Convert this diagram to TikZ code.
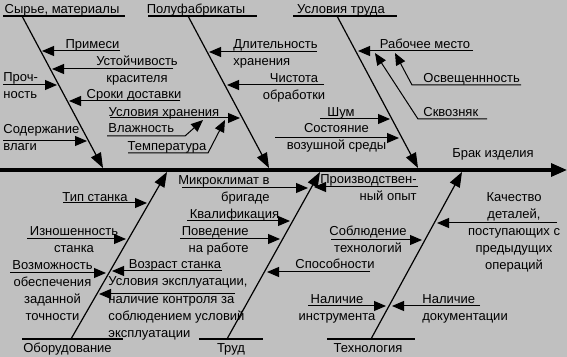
\documentclass[tikz,border=0pt]{standalone}
\usepackage{fontspec}
\setmainfont{Liberation Sans}
\usepackage{tikz}
\usetikzlibrary{arrows.meta}
\definecolor{panelgray}{RGB}{192, 192, 192}

\begin{document}
\begin{tikzpicture}[
    x=0.5pt, y=-0.5pt,
    lbl/.style={font=\fontsize{6.5}{8.5}\selectfont, inner sep=0pt, align=center, anchor=base},
    spine/.style={line width=1.6pt, -{Triangle[length=8pt, width=6.5pt]}},
    bone/.style={line width=0.6pt, -{Triangle[length=7.5pt, width=5.5pt]}},
    cause/.style={line width=0.5pt, -{Triangle[length=6pt, width=5pt]}},
    uline/.style={line width=1pt}
]
\fill[panelgray] (0,0) rectangle (567,357);
\useasboundingbox (0,0) rectangle (567,357);

% effect
\node[lbl] (defect) at (493,158) {Брак изделия};
\coordinate (tail) at (0,170);
\coordinate (head) at (567,170);
\draw[spine] (tail) -- (head);

% main bones
\node[lbl] (raw) at (62,13.5) {Сырье, материалы};
\node[lbl] (semi) at (196,13.5) {Полуфабрикаты};
\node[lbl] (work) at (341,13.5) {Условия труда};
\node[lbl] (equip) at (67.5,353) {Оборудование};
\node[lbl] (labour) at (231,353) {Труд};
\node[lbl] (tech) at (368,352) {Технология};
\draw[uline] (3,16) -- (125,16);
\draw[uline] (148,16) -- (257,16);
\draw[uline] (293,16) -- (397,16);
\draw[uline] (22,339) -- (123,339);
\draw[uline] (199,339) -- (263,339);
\draw[uline] (327,339) -- (415,339);
\coordinate (raw-s) at (22,16);    \coordinate (raw-t) at (103,168);
\coordinate (semi-s) at (188,16);  \coordinate (semi-t) at (269,168);
\coordinate (work-s) at (337,16);  \coordinate (work-t) at (418,168);
\coordinate (equip-s) at (71,339); \coordinate (equip-t) at (167,172);
\coordinate (labour-s) at (227,339); \coordinate (labour-t) at (320,172);
\coordinate (tech-s) at (371,339); \coordinate (tech-t) at (462,172);
\draw[bone] (raw-s) -- (raw-t);
\draw[bone] (semi-s) -- (semi-t);
\draw[bone] (work-s) -- (work-t);
\draw[bone] (equip-s) -- (equip-t);
\draw[bone] (labour-s) -- (labour-t);
\draw[bone] (tech-s) -- (tech-t);

% raw materials
\node[lbl] (imp) at (92.5,49) {Примеси};
\node[lbl] (dye) at (137,83) {Устойчивость\\красителя};
\node[lbl, anchor=base west, align=left] (str) at (3,99) {Проч-\\ность};
\node[lbl] (term) at (134,99) {Сроки доставки};
\node[lbl, anchor=base west, align=left] (moist) at (3,150.5) {Содержание\\влаги};
\coordinate (imp-s) at (120,51);  \coordinate (imp-t) at (42,51);
\coordinate (dye-s) at (173,69);  \coordinate (dye-t) at (52,69);
\coordinate (str-s) at (3,85);    \coordinate (str-t) at (57,85);
\coordinate (term-s) at (180,101); \coordinate (term-t) at (69,101);
\coordinate (moist-s) at (3,141); \coordinate (moist-t) at (87,141);
\draw[cause] (imp-s) -- (imp-t);
\draw[cause] (dye-s) -- (dye-t);
\draw[cause] (str-s) -- (str-t);
\draw[cause] (term-s) -- (term-t);
\draw[cause] (moist-s) -- (moist-t);

% semi-finished
\node[lbl, anchor=base west, align=left] (dur) at (233,66) {Длительность\\хранения};
\node[lbl] (clean) at (294,99.5) {Чистота\\обработки};
\node[lbl] (store) at (164,116.5) {Условия хранения};
\node[lbl, anchor=base west] (hum) at (108,133) {Влажность};
\node[lbl] (temp) at (167,150.5) {Температура};
\coordinate (dur-s) at (317,52);   \coordinate (dur-t) at (209,52);
\coordinate (clean-s) at (324,85); \coordinate (clean-t) at (227,85);
\coordinate (store-s) at (110,118); \coordinate (store-t) at (240,118);
\coordinate (hum-s) at (107,136);  \coordinate (hum-k) at (185,136); \coordinate (hum-t) at (203,120);
\coordinate (temp-s) at (128,153); \coordinate (temp-k) at (208,153); \coordinate (temp-t) at (225,120);
\draw[cause] (dur-s) -- (dur-t);
\draw[cause] (clean-s) -- (clean-t);
\draw[cause] (store-s) -- (store-t);
\draw[cause] (hum-s) -- (hum-k) -- (hum-t);
\draw[cause] (temp-s) -- (temp-k) -- (temp-t);

% work conditions
\node[lbl] (place) at (425,49) {Рабочее место};
\node[lbl, anchor=base west] (light) at (423,83) {Освещеннность};
\node[lbl, anchor=base west] (draft) at (423,117) {Сквозняк};
\node[lbl] (noise) at (341,117) {Шум};
\node[lbl] (air) at (336.5,150) {Состояние\\возушной среды};
\coordinate (place-s) at (473,51); \coordinate (place-t) at (358,51);
\coordinate (light-s) at (521,85); \coordinate (light-k) at (412,85); \coordinate (light-t) at (395,53);
\coordinate (draft-s) at (487,119); \coordinate (draft-k) at (418,119); \coordinate (draft-t) at (375,53);
\coordinate (noise-s) at (320,119); \coordinate (noise-t) at (390,119);
\coordinate (air-s) at (275,138);  \coordinate (air-t) at (399,138);
\draw[cause] (place-s) -- (place-t);
\draw[cause] (light-s) -- (light-k) -- (light-t);
\draw[cause] (draft-s) -- (draft-k) -- (draft-t);
\draw[cause] (noise-s) -- (noise-t);
\draw[cause] (air-s) -- (air-t);

% equipment
\node[lbl] (type) at (95,201.5) {Тип станка};
\node[lbl] (wear) at (74,253) {Изношенность\\станка};
\node[lbl] (prec) at (52.5,320.5) {Возможность\\обеспечения\\заданной\\точности};
\node[lbl] (age) at (175,269) {Возраст станка};
\node[lbl, anchor=base west, align=left] (oper) at (108,337) {Условия эксплуатации,\\наличие контроля за\\соблюдением условий\\эксплуатации};
\coordinate (type-s) at (63,203);  \coordinate (type-t) at (147,203);
\coordinate (wear-s) at (27,239);  \coordinate (wear-t) at (126,239);
\coordinate (prec-s) at (10,273);  \coordinate (prec-t) at (106,273);
\coordinate (age-s) at (222,271);  \coordinate (age-t) at (112,271);
\coordinate (oper-s) at (235,294); \coordinate (oper-t) at (99,294);
\draw[cause] (type-s) -- (type-t);
\draw[cause] (wear-s) -- (wear-t);
\draw[cause] (prec-s) -- (prec-t);
\draw[cause] (age-s) -- (age-t);
\draw[cause] (oper-s) -- (oper-t);

% labour
\node[lbl, anchor=base east, align=right] (clim) at (270,201.5) {Микроклимат в\\бригаде};
\node[lbl] (qual) at (234.5,219) {Квалификация};
\node[lbl, anchor=base east, align=right] (behav) at (249,252.5) {Поведение\\на работе};
\node[lbl, anchor=base east, align=right] (exp) at (417,200.5) {Производствен-\\ный опыт};
\node[lbl] (abil) at (335,269) {Способности};
\coordinate (clim-s) at (182,188);  \coordinate (clim-t) at (308,188);
\coordinate (qual-s) at (187,221);  \coordinate (qual-t) at (290,221);
\coordinate (behav-s) at (180,239); \coordinate (behav-t) at (280,239);
\coordinate (exp-s) at (418,187);   \coordinate (exp-t) at (314,187);
\coordinate (abil-s) at (370,272);  \coordinate (abil-t) at (267,272);
\draw[cause] (clim-s) -- (clim-t);
\draw[cause] (qual-s) -- (qual-t);
\draw[cause] (behav-s) -- (behav-t);
\draw[cause] (exp-s) -- (exp-t);
\draw[cause] (abil-s) -- (abil-t);

% technology
\node[lbl] (follow) at (368,253) {Соблюдение\\технологий};
\node[lbl] (parts) at (514,270) {Качество\\деталей,\\поступающих с\\предыдущих\\операций};
\node[lbl] (tool) at (337,320.5) {Наличие\\инструмента};
\node[lbl, anchor=base west, align=left] (docs) at (422,320.5) {Наличие\\документации};
\coordinate (follow-s) at (331,240); \coordinate (follow-t) at (422,240);
\coordinate (parts-s) at (557,223);  \coordinate (parts-t) at (437,223);
\coordinate (tool-s) at (308,306);   \coordinate (tool-t) at (386,306);
\coordinate (docs-s) at (480,306);   \coordinate (docs-t) at (392,306);
\draw[cause] (follow-s) -- (follow-t);
\draw[cause] (parts-s) -- (parts-t);
\draw[cause] (tool-s) -- (tool-t);
\draw[cause] (docs-s) -- (docs-t);
\end{tikzpicture}
\end{document}
